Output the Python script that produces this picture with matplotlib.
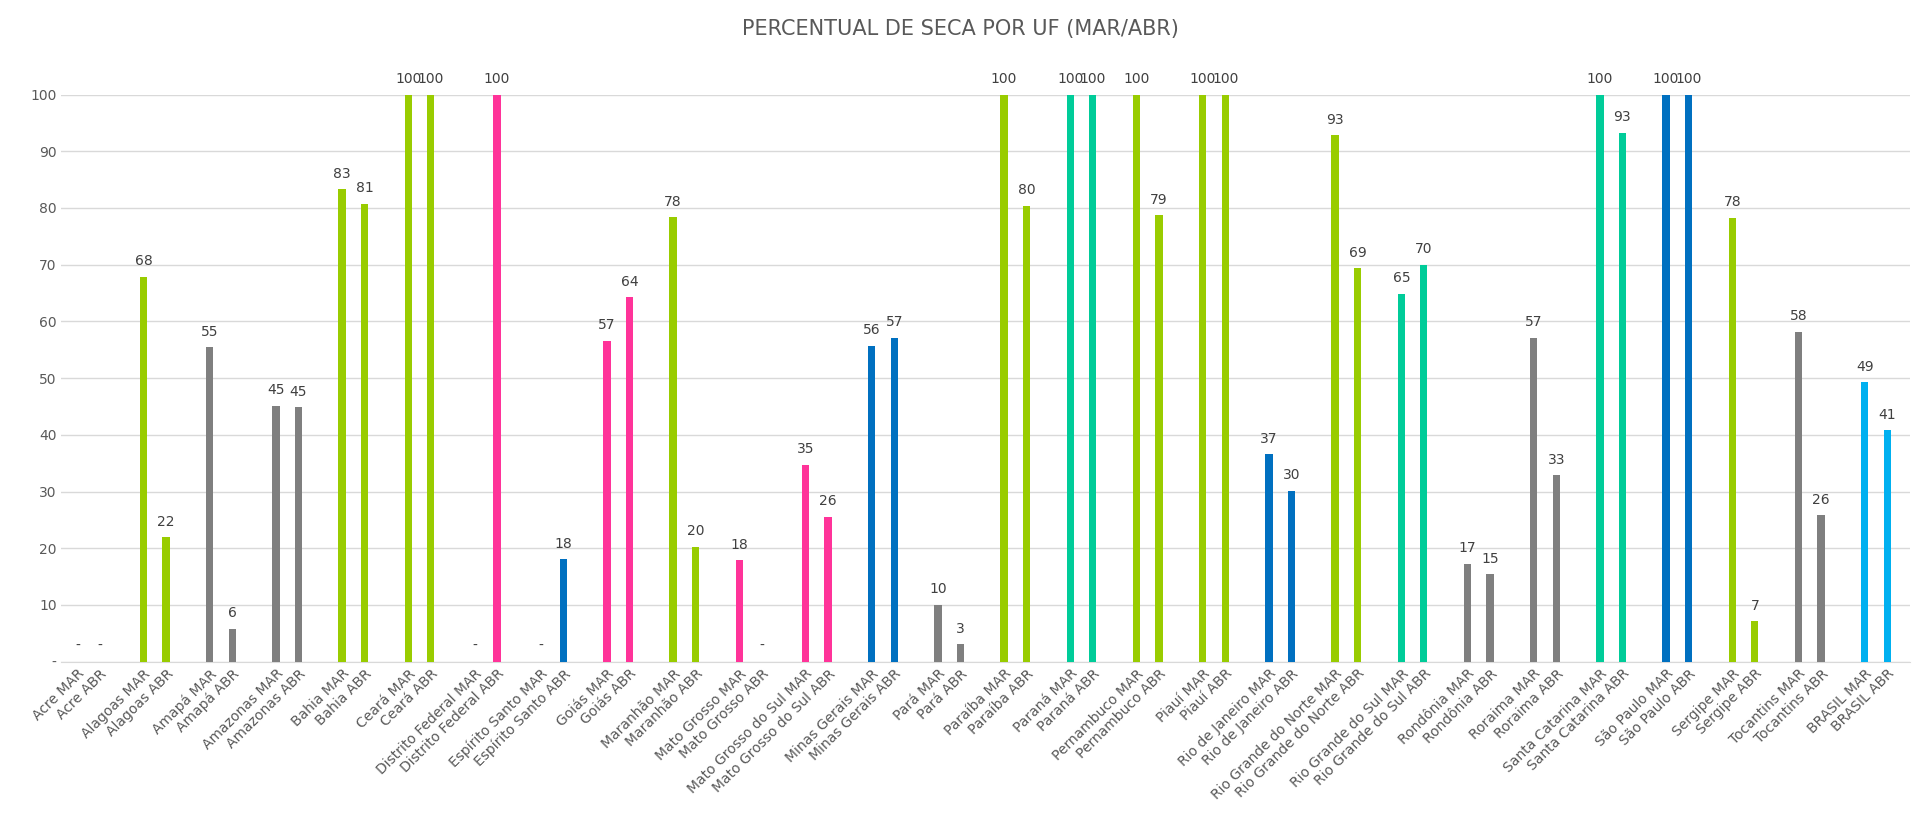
import matplotlib.pyplot as plt
import numpy as np

states = ["Acre", "Alagoas", "Amapá", "Amazonas", "Bahia", "Ceará", "Distrito Federal",
          "Espírito Santo", "Goiás", "Maranhão", "Mato Grosso", "Mato Grosso do Sul",
          "Minas Gerais", "Pará", "Paraíba", "Paraná", "Pernambuco", "Piauí",
          "Rio de Janeiro", "Rio Grande do Norte", "Rio Grande do Sul", "Rondônia",
          "Roraima", "Santa Catarina", "São Paulo", "Sergipe", "Tocantins", "BRASIL"]
mar = [0, 67.9, 55.4, 45.1, 83.3, 100, 0, 0, 56.6, 78.4, 17.9, 34.7, 55.7, 10.0,
       100, 100, 100, 100, 36.6, 92.8, 64.9, 17.3, 57.1, 100, 100, 78.3, 58.2, 49.3]
abr = [0, 21.9, 5.8, 44.9, 80.7, 100, 100, 18.1, 64.3, 20.3, 0, 25.6, 57.1, 3.1,
       80.4, 100, 78.7, 100, 30.1, 69.4, 70.0, 15.4, 32.9, 93.3, 100, 7.1, 25.8, 40.8]
groups = ["g", "g", "k", "k", "g", "g", "p", "b", "p", "g", "p", "p", "b", "k",
          "g", "t", "g", "g", "b", "g", "t", "k", "k", "t", "b", "g", "k", "l"]
palette = {"g": "#99CC00", "k": "#7F7F7F", "p": "#FF3399", "b": "#0070C0",
           "t": "#00CC99", "l": "#00B0F0"}

fig = plt.figure(figsize=(19.2, 8.22), dpi=100)
ax = fig.add_axes([0.032, 0.195, 0.963, 0.69])
off = 0.34
w = 0.11
ticks, labels = [], []
for i, s in enumerate(states):
    c = palette[groups[i]]
    for j, (v, tag) in enumerate([(mar[i], "MAR"), (abr[i], "ABR")]):
        x = i + j * off
        ax.bar(x, v, width=w, color=c, zorder=3)
        txt = "-" if v == 0 else f"{v:.0f}"
        ax.text(x, v + 1.5, txt, ha="center", va="bottom", fontsize=10, color="#404040")
        ticks.append(x)
        labels.append(f"{s} {tag}")

ax.set_xlim(-0.24, 27 + off + 0.35)
ax.set_ylim(0, 100)
ax.set_yticks(range(0, 101, 10))
ax.set_yticklabels(["-"] + [str(v) for v in range(10, 101, 10)], fontsize=10, color="#595959")
ax.set_xticks(ticks)
ax.set_xticklabels(labels, rotation=45, ha="right", rotation_mode="anchor",
                   fontsize=10, color="#595959")
ax.tick_params(length=0)
ax.grid(axis="y", color="#D9D9D9", linewidth=1, zorder=0)
for sp in ["top", "right", "left"]:
    ax.spines[sp].set_visible(False)
ax.spines["bottom"].set_color("#D9D9D9")
fig.text(0.5, 0.965, "PERCENTUAL DE SECA POR UF (MAR/ABR)", ha="center", va="center",
         fontsize=15, color="#595959")

fig.savefig("out.png")
